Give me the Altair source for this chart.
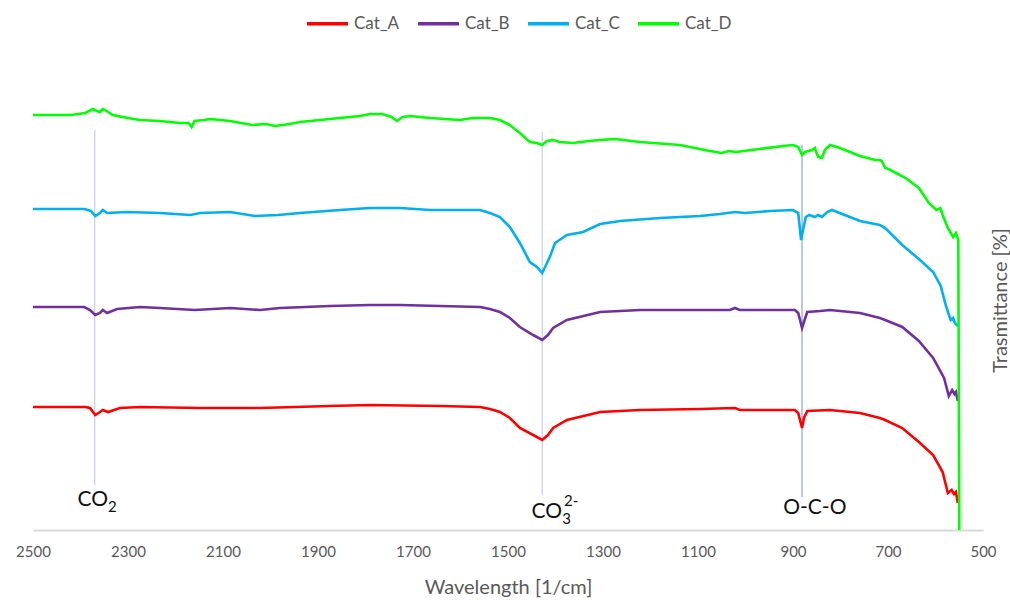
import altair as alt
import pandas as pd

# ---------------- data ----------------
SERIES = ["Cat_A", "Cat_B", "Cat_C", "Cat_D"]
COLORS = ["#FF0000", "#7030A0", "#00B0F0", "#00FF00"]

A_WN = [2500, 2390, 2380, 2369, 2359, 2353, 2342, 2317, 2275, 2148,
        2022, 1875, 1791, 1643, 1559, 1538, 1517, 1496, 1475, 1447,
        1428, 1416, 1405, 1376, 1306, 1222, 1096, 1022, 1012, 896,
        889, 881, 877, 870, 822, 759, 717, 706, 670, 635,
        605, 585, 574, 566, 561, 557, 553]
A_T = [24.6, 24.6, 24.4, 23.0, 23.6, 24.0, 23.6, 24.4, 24.6, 24.4,
       24.4, 24.8, 25.0, 24.8, 24.6, 24.2, 23.6, 22.4, 20.4, 19.0,
       18.0, 19.0, 20.4, 22.0, 23.6, 24.0, 24.2, 24.4, 24.0, 24.0,
       23.4, 20.4, 22.4, 23.8, 24.0, 23.4, 22.4, 22.0, 20.4, 17.6,
       15.0, 11.6, 7.4, 8.0, 7.2, 7.6, 5.4]

B_WN = [2500, 2392, 2380, 2369, 2359, 2353, 2344, 2323, 2275, 2233,
        2159, 2085, 2022, 1980, 1875, 1791, 1727, 1643, 1559, 1538,
        1517, 1496, 1475, 1447, 1428, 1416, 1405, 1376, 1306, 1222,
        1096, 1033, 1022, 1012, 896, 889, 881, 877, 870, 843,
        822, 759, 717, 706, 670, 635, 605, 582, 572, 565,
        560, 557, 553]
B_T = [44.6, 44.6, 44.0, 43.0, 43.4, 44.0, 43.4, 44.2, 44.6, 44.4,
       44.0, 44.4, 44.0, 44.4, 44.8, 45.0, 45.0, 44.8, 44.6, 44.2,
       43.6, 42.4, 40.6, 39.0, 38.0, 39.0, 40.4, 42.0, 43.6, 44.0,
       44.0, 44.0, 44.4, 44.0, 44.0, 43.4, 40.4, 41.6, 43.6, 43.8,
       44.0, 43.4, 42.4, 42.0, 40.6, 37.8, 34.4, 30.4, 26.8, 28.0,
       27.2, 27.6, 25.8]

C_WN = [2500, 2392, 2378, 2369, 2359, 2353, 2344, 2302, 2233, 2169,
        2148, 2085, 2033, 1984, 1938, 1854, 1791, 1727, 1664, 1559,
        1538, 1517, 1496, 1475, 1454, 1439, 1428, 1418, 1412, 1401,
        1376, 1342, 1306, 1264, 1180, 1096, 1054, 1022, 1001, 948,
        900, 889, 883, 879, 873, 866, 854, 847, 839, 828,
        818, 759, 717, 706, 670, 635, 605, 589, 578, 568,
        563, 559, 553]
C_T = [64.2, 64.2, 63.8, 62.8, 63.4, 64.0, 63.4, 63.6, 63.4, 63.0,
       63.4, 63.6, 62.8, 63.0, 63.4, 64.0, 64.4, 64.4, 64.0, 64.0,
       63.4, 62.6, 60.6, 57.4, 53.6, 52.6, 51.4, 53.4, 54.6, 57.4,
       59.0, 59.6, 61.2, 61.8, 62.4, 62.8, 63.2, 63.6, 63.4, 63.8,
       64.0, 63.4, 58.0, 60.0, 62.6, 63.0, 62.6, 63.0, 62.6, 63.6,
       64.0, 61.8, 61.0, 60.4, 57.0, 54.2, 51.6, 48.8, 44.8, 42.0,
       42.4, 41.4, 40.8]

D_WN = [2500, 2420, 2390, 2374, 2366, 2359, 2353, 2345, 2332, 2300,
        2275, 2233, 2191, 2172, 2166, 2160, 2140, 2127, 2085, 2050,
        2039, 2010, 1990, 1960, 1938, 1875, 1812, 1790, 1765, 1745,
        1734, 1722, 1706, 1664, 1601, 1575, 1538, 1517, 1496, 1475,
        1454, 1439, 1428, 1418, 1405, 1391, 1363, 1330, 1306, 1275,
        1222, 1138, 1075, 1050, 1035, 1020, 971, 920, 900, 889,
        881, 875, 860, 854, 847, 839, 833, 822, 801, 759,
        727, 717, 713, 706, 699, 663, 635, 614, 598, 590,
        585, 574, 563, 557, 552, 550]
D_T = [83.0, 83.0, 83.4, 84.2, 83.8, 83.6, 84.2, 83.8, 83.0, 82.4,
       82.0, 81.8, 81.4, 81.4, 80.6, 81.8, 82.0, 82.2, 81.8, 81.2,
       81.0, 81.2, 80.8, 81.2, 81.6, 82.2, 82.8, 83.2, 83.2, 82.6,
       81.8, 82.6, 82.8, 82.4, 82.0, 82.4, 82.4, 82.0, 81.0, 79.4,
       77.6, 77.4, 77.0, 77.8, 78.0, 77.6, 77.4, 77.8, 78.0, 78.2,
       77.6, 77.0, 75.8, 75.4, 75.8, 75.6, 76.2, 76.8, 77.0, 76.6,
       75.0, 75.6, 76.0, 76.4, 74.6, 74.4, 76.0, 77.0, 76.4, 74.8,
       74.0, 74.0, 73.8, 72.4, 72.2, 70.4, 68.4, 65.4, 64.0, 64.4,
       63.0, 60.4, 58.6, 59.4, 58.0, 0.0]

X_TICKS = [2500, 2300, 2100, 1900, 1700, 1500, 1300, 1100, 900, 700, 500]

# marker lines (wavenumber, top, bottom, colour)
MARK_WN = [2370, 1428, 881]
MARK_TOP = [80.0, 79.6, 77.0]
MARK_BOT = [9.0, 7.0, 6.6]
MARK_COL = ["#B4C7E7", "#B4C7E7", "#6F95D8"]

# annotation pieces
ANN_MAIN_TXT = ["CO", "CO"]
ANN_MAIN_WN = [2342, 1386]
ANN_MAIN_T = [4.8, 2.4]
ANN_SMALL_TXT = ["2", "3", "2-"]
ANN_SMALL_WN = [2342, 1386, 1382]
ANN_SMALL_T = [3.6, 1.2, 4.8]
ANN_CTR_TXT = ["O-C-O"]
ANN_CTR_WN = [854]
ANN_CTR_T = [3.2]

# ---------------- build tables ----------------
rows = []
for name, wn, t in zip(SERIES, [A_WN, B_WN, C_WN, D_WN], [A_T, B_T, C_T, D_T]):
    for w, v in zip(wn, t):
        rows.append({"series": name, "wn": w, "T": v})
df = pd.DataFrame(rows)

marks_df = pd.DataFrame({"wn": MARK_WN, "top": MARK_TOP, "bot": MARK_BOT, "col": MARK_COL})
main_df = pd.DataFrame({"txt": ANN_MAIN_TXT, "wn": ANN_MAIN_WN, "T": ANN_MAIN_T})
small_df = pd.DataFrame({"txt": ANN_SMALL_TXT, "wn": ANN_SMALL_WN, "T": ANN_SMALL_T})
ctr_df = pd.DataFrame({"txt": ANN_CTR_TXT, "wn": ANN_CTR_WN, "T": ANN_CTR_T})

FONT = "Lato"
GREY = "#595959"

xscale = alt.Scale(domain=[500, 2500], reverse=True, nice=False, zero=False)
yscale = alt.Scale(domain=[0, 92], nice=False, zero=False)

x_axis = alt.Axis(values=X_TICKS, format="d", ticks=False, grid=False,
                  labelFlush=False, labelOverlap=False,
                  domainColor="#D9D9D9", domainWidth=2,
                  labelFont=FONT, labelFontSize=15, labelColor=GREY, labelPadding=14,
                  title="Wavelength [1/cm]", titleFont=FONT, titleFontSize=20,
                  titleColor=GREY, titleFontWeight="normal", titlePadding=18)
y_axis = alt.Axis(orient="right", labels=False, ticks=False, domain=False, grid=False,
                  title="Trasmittance [%]", titleFont=FONT, titleFontSize=20,
                  titleColor=GREY, titleFontWeight="normal", titleAngle=270,
                  titleAlign="center", titleBaseline="middle", titleX=17, titleY=230)

lines = alt.Chart(df).mark_line(strokeWidth=2.6, clip=True).encode(
    x=alt.X("wn:Q", scale=xscale, axis=x_axis),
    y=alt.Y("T:Q", scale=yscale, axis=y_axis),
    color=alt.Color("series:N",
                    scale=alt.Scale(domain=SERIES, range=COLORS),
                    legend=alt.Legend(title=None, orient="none", direction="horizontal",
                                      legendX=272, legendY=-69,
                                      symbolType="stroke", symbolSize=1681,
                                      symbolStrokeWidth=3.5, labelFont=FONT,
                                      labelFontSize=17, labelColor=GREY,
                                      labelOffset=4, columnPadding=11)),
    order=alt.Order("wn:Q", sort="descending"),
)

rules = alt.Chart(marks_df).mark_rule(strokeWidth=1).encode(
    x=alt.X("wn:Q", scale=xscale),
    y=alt.Y("top:Q", scale=yscale),
    y2="bot:Q",
    color=alt.Color("col:N", scale=None),
)

main_txt = alt.Chart(main_df).mark_text(align="right", baseline="alphabetic",
                                        font=FONT, fontSize=21, color="#111111").encode(
    x=alt.X("wn:Q", scale=xscale), y=alt.Y("T:Q", scale=yscale), text="txt:N")
small_txt = alt.Chart(small_df).mark_text(align="left", baseline="alphabetic",
                                          font=FONT, fontSize=15, color="#111111").encode(
    x=alt.X("wn:Q", scale=xscale), y=alt.Y("T:Q", scale=yscale), text="txt:N")
ctr_txt = alt.Chart(ctr_df).mark_text(align="center", baseline="alphabetic",
                                      font=FONT, fontSize=21, color="#111111").encode(
    x=alt.X("wn:Q", scale=xscale), y=alt.Y("T:Q", scale=yscale), text="txt:N")

chart = alt.layer(rules, lines, main_txt, small_txt, ctr_txt).properties(
    width=950, height=460,
    background="white",
    autosize=alt.AutoSizeParams(type="none"),
    padding={"left": 33, "top": 70, "right": 27, "bottom": 70},
).configure_view(strokeWidth=0, stroke="transparent")

chart.save("out.html", embed_options={"renderer": "svg", "actions": False})
